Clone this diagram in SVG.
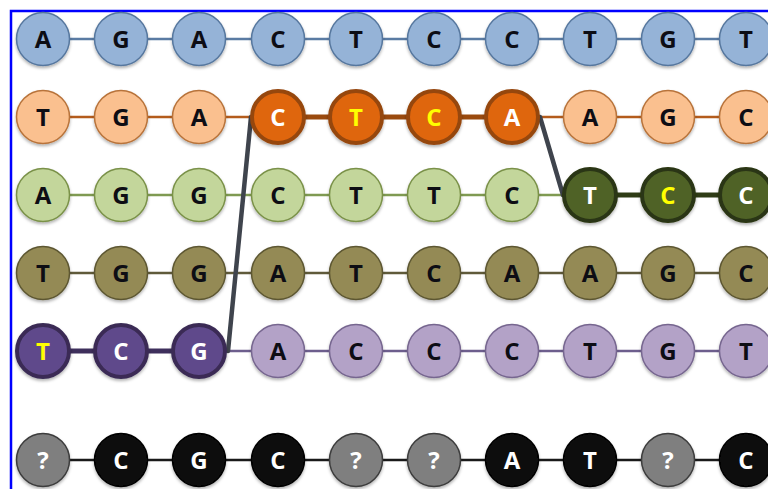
<svg xmlns="http://www.w3.org/2000/svg" width="768" height="489" viewBox="0 0 768 489">
  <defs>
    <filter id="shadow" x="-30%" y="-30%" width="160%" height="170%">
      <feDropShadow dx="0" dy="2" stdDeviation="1.5" flood-color="#000" flood-opacity="0.3"/>
    </filter>
  </defs>
  <style>
    text { font-family: "Open Sans", "Liberation Sans", sans-serif; font-weight: 700; font-size: 24px; text-anchor: middle; fill: #0d0d14; }
    circle { r: 26.5px; stroke-width: 1.5; filter: url(#shadow); }
    .hl circle { r: 26px; stroke-width: 4; }
    .blue circle { fill: #95b3d7; stroke: #56779e; }
    .peach circle { fill: #fac08f; stroke: #b8733a; }
    .orange circle { fill: #df660e; stroke: #96470c; }
    .lgreen circle { fill: #c3d69b; stroke: #7a9148; }
    .dgreen circle { fill: #4f6228; stroke: #2a3612; }
    .olive circle { fill: #948a54; stroke: #5d5732; }
    .lpurple circle { fill: #b3a2c7; stroke: #76668f; }
    .dpurple circle { fill: #5f4a8b; stroke: #3a2c55; }
    .gray circle { fill: #7f7f7f; stroke: #3c3c3c; }
    .black circle { fill: #0d0d0d; stroke: #000; }
    .w text { fill: #fff; }
    .y text { fill: #ffff00; }
    .row { fill: none; stroke-width: 2.5; }
    .link { fill: none; stroke-width: 5; }
    .cross { fill: none; stroke: #3f444d; stroke-width: 4.5; stroke-linecap: round; }
  </style>

  <rect x="11" y="11" width="800" height="520" fill="#fff" stroke="#0000ff" stroke-width="2.5"/>

  <g id="connectors">
    <line class="row" x1="43" y1="39" x2="768" y2="39" stroke="#5a7ba3"/>
    <line class="row" x1="43" y1="117" x2="768" y2="117" stroke="#b45c1c"/>
    <line class="link" x1="278" y1="117" x2="512" y2="117" stroke="#9a4a0e"/>
    <line class="row" x1="43" y1="195" x2="768" y2="195" stroke="#7f9a52"/>
    <line class="link" x1="590" y1="195" x2="768" y2="195" stroke="#2f3c16"/>
    <line class="row" x1="43" y1="273" x2="768" y2="273" stroke="#5f5a3a"/>
    <line class="row" x1="43" y1="351" x2="768" y2="351" stroke="#6d5e8d"/>
    <line class="link" x1="43" y1="351" x2="199" y2="351" stroke="#3e2f5c"/>
    <line class="row" x1="43" y1="460" x2="768" y2="460" stroke="#1a1a1a"/>
    <line class="cross" x1="228" y1="351" x2="251" y2="117"/>
    <line class="cross" x1="540" y1="117" x2="563" y2="195"/>
  </g>

  <!-- row 1 -->
  <g id="r1c1" class="blue" transform="translate(43 39)"><circle/><text y="9">A</text></g>
  <g id="r1c2" class="blue" transform="translate(121 39)"><circle/><text y="9">G</text></g>
  <g id="r1c3" class="blue" transform="translate(199 39)"><circle/><text y="9">A</text></g>
  <g id="r1c4" class="blue" transform="translate(278 39)"><circle/><text y="9">C</text></g>
  <g id="r1c5" class="blue" transform="translate(356 39)"><circle/><text y="9">T</text></g>
  <g id="r1c6" class="blue" transform="translate(434 39)"><circle/><text y="9">C</text></g>
  <g id="r1c7" class="blue" transform="translate(512 39)"><circle/><text y="9">C</text></g>
  <g id="r1c8" class="blue" transform="translate(590 39)"><circle/><text y="9">T</text></g>
  <g id="r1c9" class="blue" transform="translate(668 39)"><circle/><text y="9">G</text></g>
  <g id="r1c10" class="blue" transform="translate(746 39)"><circle/><text y="9">T</text></g>

  <!-- row 2 -->
  <g id="r2c1" class="peach" transform="translate(43 117)"><circle/><text y="9">T</text></g>
  <g id="r2c2" class="peach" transform="translate(121 117)"><circle/><text y="9">G</text></g>
  <g id="r2c3" class="peach" transform="translate(199 117)"><circle/><text y="9">A</text></g>
  <g id="r2c4" class="orange hl w" transform="translate(278 117)"><circle/><text y="9">C</text></g>
  <g id="r2c5" class="orange hl y" transform="translate(356 117)"><circle/><text y="9">T</text></g>
  <g id="r2c6" class="orange hl y" transform="translate(434 117)"><circle/><text y="9">C</text></g>
  <g id="r2c7" class="orange hl w" transform="translate(512 117)"><circle/><text y="9">A</text></g>
  <g id="r2c8" class="peach" transform="translate(590 117)"><circle/><text y="9">A</text></g>
  <g id="r2c9" class="peach" transform="translate(668 117)"><circle/><text y="9">G</text></g>
  <g id="r2c10" class="peach" transform="translate(746 117)"><circle/><text y="9">C</text></g>

  <!-- row 3 -->
  <g id="r3c1" class="lgreen" transform="translate(43 195)"><circle/><text y="9">A</text></g>
  <g id="r3c2" class="lgreen" transform="translate(121 195)"><circle/><text y="9">G</text></g>
  <g id="r3c3" class="lgreen" transform="translate(199 195)"><circle/><text y="9">G</text></g>
  <g id="r3c4" class="lgreen" transform="translate(278 195)"><circle/><text y="9">C</text></g>
  <g id="r3c5" class="lgreen" transform="translate(356 195)"><circle/><text y="9">T</text></g>
  <g id="r3c6" class="lgreen" transform="translate(434 195)"><circle/><text y="9">T</text></g>
  <g id="r3c7" class="lgreen" transform="translate(512 195)"><circle/><text y="9">C</text></g>
  <g id="r3c8" class="dgreen hl w" transform="translate(590 195)"><circle/><text y="9">T</text></g>
  <g id="r3c9" class="dgreen hl y" transform="translate(668 195)"><circle/><text y="9">C</text></g>
  <g id="r3c10" class="dgreen hl w" transform="translate(746 195)"><circle/><text y="9">C</text></g>

  <!-- row 4 -->
  <g id="r4c1" class="olive" transform="translate(43 273)"><circle/><text y="9">T</text></g>
  <g id="r4c2" class="olive" transform="translate(121 273)"><circle/><text y="9">G</text></g>
  <g id="r4c3" class="olive" transform="translate(199 273)"><circle/><text y="9">G</text></g>
  <g id="r4c4" class="olive" transform="translate(278 273)"><circle/><text y="9">A</text></g>
  <g id="r4c5" class="olive" transform="translate(356 273)"><circle/><text y="9">T</text></g>
  <g id="r4c6" class="olive" transform="translate(434 273)"><circle/><text y="9">C</text></g>
  <g id="r4c7" class="olive" transform="translate(512 273)"><circle/><text y="9">A</text></g>
  <g id="r4c8" class="olive" transform="translate(590 273)"><circle/><text y="9">A</text></g>
  <g id="r4c9" class="olive" transform="translate(668 273)"><circle/><text y="9">G</text></g>
  <g id="r4c10" class="olive" transform="translate(746 273)"><circle/><text y="9">C</text></g>

  <!-- row 5 -->
  <g id="r5c1" class="dpurple hl y" transform="translate(43 351)"><circle/><text y="9">T</text></g>
  <g id="r5c2" class="dpurple hl w" transform="translate(121 351)"><circle/><text y="9">C</text></g>
  <g id="r5c3" class="dpurple hl w" transform="translate(199 351)"><circle/><text y="9">G</text></g>
  <g id="r5c4" class="lpurple" transform="translate(278 351)"><circle/><text y="9">A</text></g>
  <g id="r5c5" class="lpurple" transform="translate(356 351)"><circle/><text y="9">C</text></g>
  <g id="r5c6" class="lpurple" transform="translate(434 351)"><circle/><text y="9">C</text></g>
  <g id="r5c7" class="lpurple" transform="translate(512 351)"><circle/><text y="9">C</text></g>
  <g id="r5c8" class="lpurple" transform="translate(590 351)"><circle/><text y="9">T</text></g>
  <g id="r5c9" class="lpurple" transform="translate(668 351)"><circle/><text y="9">G</text></g>
  <g id="r5c10" class="lpurple" transform="translate(746 351)"><circle/><text y="9">T</text></g>

  <!-- row 6 -->
  <g id="r6c1" class="gray w" transform="translate(43 460)"><circle/><text y="9">?</text></g>
  <g id="r6c2" class="black w" transform="translate(121 460)"><circle/><text y="9">C</text></g>
  <g id="r6c3" class="black w" transform="translate(199 460)"><circle/><text y="9">G</text></g>
  <g id="r6c4" class="black w" transform="translate(278 460)"><circle/><text y="9">C</text></g>
  <g id="r6c5" class="gray w" transform="translate(356 460)"><circle/><text y="9">?</text></g>
  <g id="r6c6" class="gray w" transform="translate(434 460)"><circle/><text y="9">?</text></g>
  <g id="r6c7" class="black w" transform="translate(512 460)"><circle/><text y="9">A</text></g>
  <g id="r6c8" class="black w" transform="translate(590 460)"><circle/><text y="9">T</text></g>
  <g id="r6c9" class="gray w" transform="translate(668 460)"><circle/><text y="9">?</text></g>
  <g id="r6c10" class="black w" transform="translate(746 460)"><circle/><text y="9">C</text></g>
</svg>
